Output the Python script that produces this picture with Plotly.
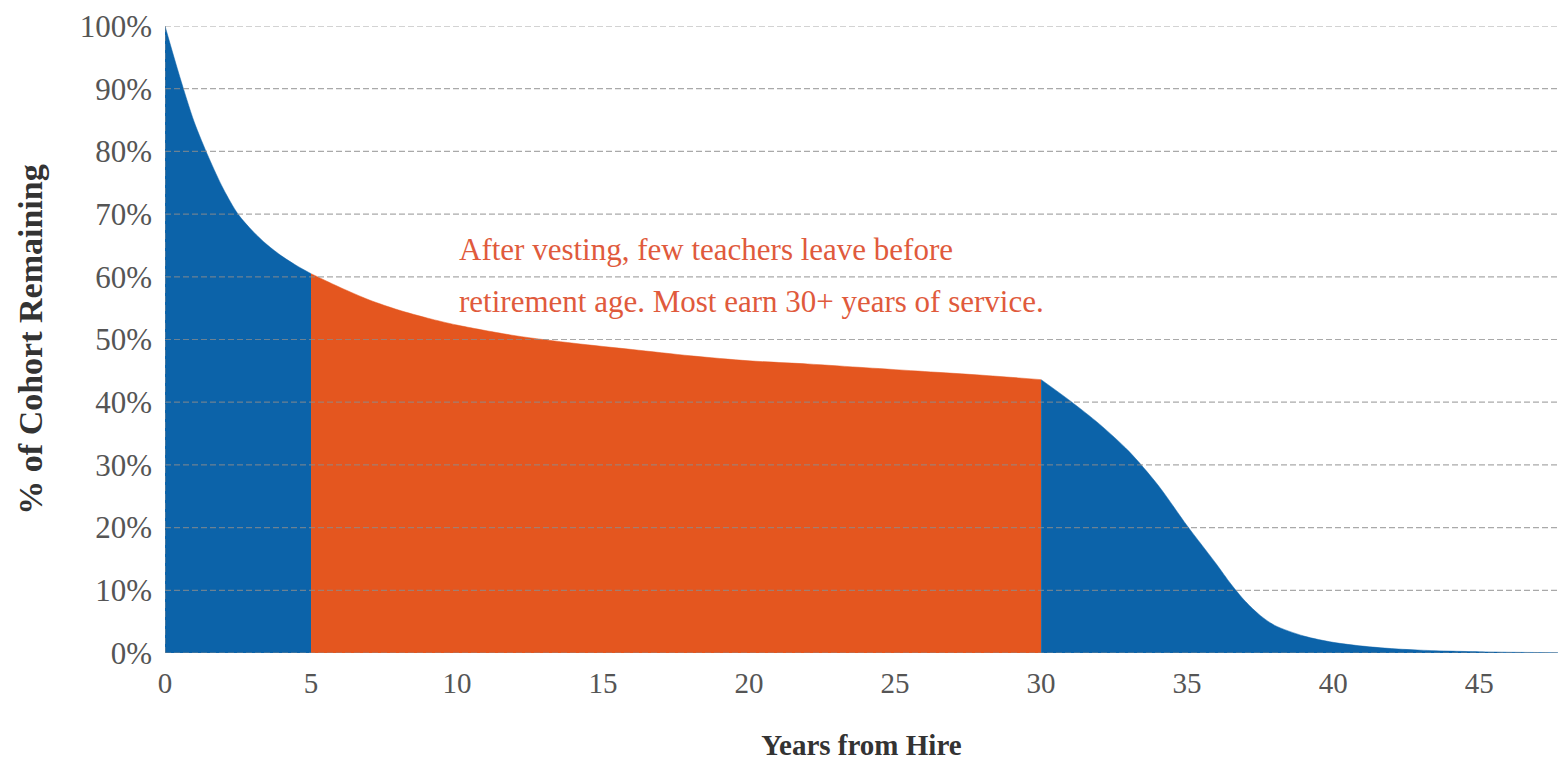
import plotly.graph_objects as go

# Share of a hiring cohort still teaching, by years since hire (percent)
early_years = [0, 0.5, 1, 1.5, 2, 2.5, 3, 3.5, 4, 4.5, 5]
early_pct = [100, 92, 84.7, 79, 74, 70, 67.3, 65.1, 63.3, 61.8, 60.5]

vested_years = [5, 6, 7, 8, 9, 10, 12, 14, 16, 18, 20, 22, 24, 26, 28, 30]
vested_pct = [60.5, 58.3, 56.3, 54.7, 53.4, 52.3, 50.6, 49.4, 48.4, 47.4,
              46.6, 46.1, 45.5, 44.9, 44.3, 43.6]

late_years = [30, 31, 32, 33, 34, 35, 36, 36.5, 37, 37.5, 38, 39, 40, 41,
              42, 43, 44, 45, 46, 47, 47.7]
late_pct = [43.6, 40.2, 36.5, 32.2, 26.8, 20.3, 14.2, 11, 8.2, 6.0, 4.4,
            2.7, 1.7, 1.1, 0.7, 0.45, 0.3, 0.2, 0.12, 0.08, 0.05]

x_ticks = [0, 5, 10, 15, 20, 25, 30, 35, 40, 45]
y_ticks = [0, 10, 20, 30, 40, 50, 60, 70, 80, 90, 100]
y_tick_text = [f"{v}%" for v in y_ticks]

note_lines = ["After vesting, few teachers leave before",
              "retirement age. Most earn 30+ years of service."]

BLUE = "#0c63a9"
ORANGE = "#e4561f"
SERIF = "Liberation Serif, Times New Roman, serif"

fig = go.Figure()
for xs, ys, col in [(early_years, early_pct, BLUE),
                    (vested_years, vested_pct, ORANGE),
                    (late_years, late_pct, BLUE)]:
    fig.add_trace(go.Scatter(
        x=xs, y=ys, mode="lines", fill="tozeroy",
        line=dict(color=col, width=0.5, shape="spline", smoothing=0.8),
        fillcolor=col, hoverinfo="x+y", showlegend=False))

# Dashed grid drawn over the filled areas
grid = dict(color="rgba(140,140,140,0.75)", width=1.2, dash="6px,3px")
for v in y_ticks:
    fig.add_shape(type="line", xref="paper", x0=0, x1=1, yref="y", y0=v, y1=v,
                  line=grid, layer="above")
fig.add_shape(type="line", xref="x", x0=0, x1=0, yref="y", y0=0, y1=100,
              line=grid, layer="above")

# Callout text
for text, yv in zip(note_lines, [64.3, 56.0]):
    fig.add_annotation(x=10, y=yv, xref="x", yref="y", text=text,
                       showarrow=False, xanchor="left", yanchor="middle",
                       font=dict(family=SERIF, size=31, color="#e05a3c"))

fig.update_layout(
    width=1561, height=761,
    margin=dict(l=165, r=3, t=26, b=108),
    paper_bgcolor="white", plot_bgcolor="white",
    font=dict(family=SERIF, color="#555555"),
    xaxis=dict(range=[0, 47.7], tickvals=x_ticks, showgrid=False,
               zeroline=False, showline=False, ticks="",
               tickfont=dict(size=29, color="#555555"),
               ticklabelstandoff=10,
               title=dict(text="<b>Years from Hire</b>", standoff=36,
                          font=dict(size=29, color="#333333"))),
    yaxis=dict(range=[0, 100], tickvals=y_ticks, ticktext=y_tick_text,
               showgrid=False, zeroline=False, showline=False, ticks="",
               tickfont=dict(size=31, color="#555555"),
               ticklabelstandoff=12,
               title=dict(text="<b>% of Cohort Remaining</b>", standoff=26,
                          font=dict(size=34, color="#333333"))),
)

fig.write_html("out.html")
